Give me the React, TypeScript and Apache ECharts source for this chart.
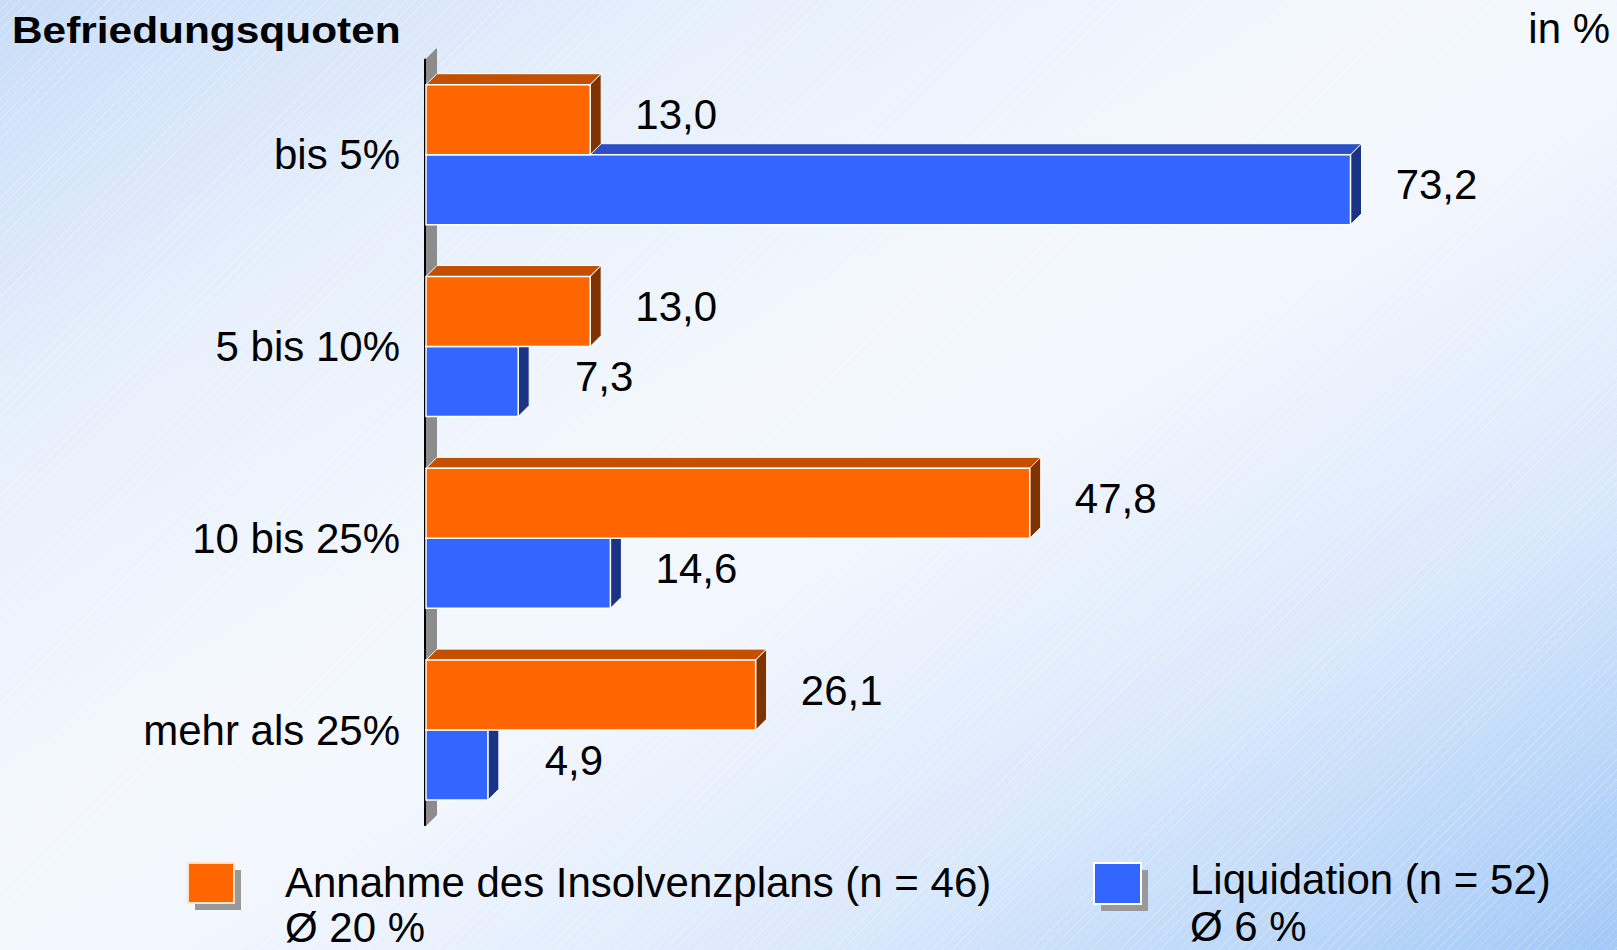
import React, { useEffect, useRef } from "react";
import * as echarts from "echarts";

// ---- data ----
const categories = ["bis 5%", "5 bis 10%", "10 bis 25%", "mehr als 25%"];
const annahmeValues = [13.0, 13.0, 47.8, 26.1];
const liquidationValues = [73.2, 7.3, 14.6, 4.9];
const legendNames = ["Annahme des Insolvenzplans (n = 46)", "Liquidation (n = 52)"];
const legendAverages = ["Ø 20 %", "Ø 6 %"];
const titleText = "Befriedungsquoten";
const unitText = "in %";

// ---- layout / style ----
const W = 1617;
const H = 950;
const GRID_LEFT = 426;
const GRID_TOP = 58.8;
const GRID_H = 767.2;
const X_MAX = 80;
const PX_PER_UNIT = 12.63;
const DEPTH = 11;
const BAR_FRAC = 70 / 191.8;
const LABEL_DX = 86;
const LABEL_DY = -5;
const FONT_FAMILY = "'Liberation Sans', Arial, Helvetica, sans-serif";

const ORANGE = { front: "#ff6600", top: "#c25000", side: "#7f3300" };
const BLUE = { front: "#3366ff", top: "#2b4fc8", side: "#1b3386" };

const fmt = (v: number) => v.toFixed(1).replace(".", ",");

function makeRenderItem(pal: { front: string; top: string; side: string }, upper: boolean) {
  return (params: any, api: any) => {
    const v = api.value(0) as number;
    const ci = api.value(1) as number;
    const p0 = api.coord([0, ci]);
    const p1 = api.coord([v, ci]);
    const band = (api.size([0, 1]) as number[])[1];
    const h = band * BAR_FRAC;
    const x0 = p0[0];
    const x1 = p1[0];
    const y0 = upper ? p0[1] - h : p0[1];
    const y1 = y0 + h;
    const d = DEPTH;
    return {
      type: "group",
      children: [
        {
          type: "polygon",
          shape: { points: [[x0, y0], [x0 + d, y0 - d], [x1 + d, y0 - d], [x1, y0]] },
          style: { fill: pal.top, stroke: "#ffffff", lineWidth: 1 },
        },
        {
          type: "polygon",
          shape: { points: [[x1, y0], [x1 + d, y0 - d], [x1 + d, y1 - d], [x1, y1]] },
          style: { fill: pal.side, stroke: "#ffffff", lineWidth: 1 },
        },
        {
          type: "rect",
          shape: { x: x0, y: y0, width: x1 - x0, height: h },
          style: { fill: pal.front, stroke: "#ffffff", lineWidth: 1.5 },
        },
        {
          type: "text",
          x: x1 + LABEL_DX,
          y: (y0 + y1) / 2 + LABEL_DY,
          style: {
            text: fmt(v),
            fill: "#000000",
            font: `42px ${FONT_FAMILY}`,
            align: "center",
            verticalAlign: "middle",
          },
        },
      ],
    };
  };
}

export default function App() {
  const ref = useRef<HTMLDivElement>(null);

  useEffect(() => {
    document.body.style.margin = "0";
    document.body.style.overflow = "hidden";
    if (!ref.current) return;
    const chart = echarts.init(ref.current, undefined, { renderer: "svg" });

    const gridBottom = GRID_TOP + GRID_H;
    const textStyle = (size: number, bold = false) =>
      `${bold ? "bold " : ""}${size}px ${FONT_FAMILY}`;

    const legendItem = (
      boxX: number,
      boxY: number,
      boxW: number,
      boxH: number,
      fill: string,
      stroke: string,
      textX: number,
      line1Y: number,
      line2Y: number,
      name: string,
      avg: string
    ) => [
      {
        type: "rect",
        z: 1,
        shape: { x: boxX + 7, y: boxY + 7, width: boxW, height: boxH },
        style: { fill: "#999999" },
      },
      {
        type: "rect",
        z: 2,
        shape: { x: boxX, y: boxY, width: boxW, height: boxH },
        style: { fill, stroke, lineWidth: 2 },
      },
      {
        type: "text",
        z: 2,
        x: textX,
        y: line1Y,
        style: { text: name, fill: "#000", font: textStyle(42), align: "left", verticalAlign: "middle" },
      },
      {
        type: "text",
        z: 2,
        x: textX,
        y: line2Y,
        style: { text: avg, fill: "#000", font: textStyle(42), align: "left", verticalAlign: "middle" },
      },
    ];

    chart.setOption({
      animation: false,
      grid: {
        left: GRID_LEFT,
        top: GRID_TOP,
        width: X_MAX * PX_PER_UNIT,
        height: GRID_H,
        containLabel: false,
      },
      xAxis: { type: "value", min: 0, max: X_MAX, show: false },
      yAxis: {
        type: "category",
        inverse: true,
        data: categories,
        axisLine: { show: false },
        axisTick: { show: false },
        splitLine: { show: false },
        axisLabel: {
          margin: 26,
          fontSize: 42,
          fontFamily: FONT_FAMILY,
          color: "#000000",
          padding: [8, 0, 0, 0],
        },
      },
      graphic: [
        {
          type: "polygon",
          z: 0,
          shape: {
            points: [
              [GRID_LEFT, GRID_TOP],
              [GRID_LEFT + DEPTH, GRID_TOP - DEPTH],
              [GRID_LEFT + DEPTH, gridBottom - DEPTH],
              [GRID_LEFT, gridBottom],
            ],
          },
          style: { fill: "#8c8c8c" },
        },
        {
          type: "line",
          z: 1,
          shape: { x1: GRID_LEFT - 1, y1: GRID_TOP, x2: GRID_LEFT - 1, y2: gridBottom },
          style: { stroke: "#000000", lineWidth: 2 },
        },
        {
          type: "text",
          z: 2,
          x: 12,
          y: 30,
          scaleY: 0.9,
          scaleX: 1.01,
          style: {
            text: titleText,
            fill: "#000000",
            font: textStyle(42, true),
            align: "left",
            verticalAlign: "middle",
          },
        },
        {
          type: "text",
          z: 2,
          x: 1610,
          y: 28,
          style: {
            text: unitText,
            fill: "#000000",
            font: textStyle(42),
            align: "right",
            verticalAlign: "middle",
          },
        },
        ...legendItem(188, 863, 46, 40, ORANGE.front, "#ffe2c8", 285, 882, 927, legendNames[0], legendAverages[0]),
        ...legendItem(1094, 863, 47, 41, BLUE.front, "#ffffff", 1190, 879, 926, legendNames[1], legendAverages[1]),
      ],
      series: [
        {
          type: "custom",
          name: legendNames[1],
          z: 2,
          renderItem: makeRenderItem(BLUE, false),
          encode: { x: 0, y: 1 },
          data: liquidationValues.map((v, i) => [v, i]),
        },
        {
          type: "custom",
          name: legendNames[0],
          z: 3,
          renderItem: makeRenderItem(ORANGE, true),
          encode: { x: 0, y: 1 },
          data: annahmeValues.map((v, i) => [v, i]),
        },
      ],
    });

    return () => {
      chart.dispose();
    };
  }, []);

  return (
    <div
      style={{
        width: W,
        height: H,
        position: "relative",
        overflow: "hidden",
        background:
          "repeating-linear-gradient(135deg, rgba(255,255,255,0.18) 0px, rgba(255,255,255,0.18) 1px, rgba(255,255,255,0) 1px, rgba(255,255,255,0) 7px), linear-gradient(to bottom right, #c9ddf8 0%, #e6effc 22%, #f4f8fe 45%, #f2f6fe 55%, #dbe9fc 75%, #a3c9f7 100%)",
      }}
    >
      <div ref={ref} style={{ width: W, height: H }} />
    </div>
  );
}
